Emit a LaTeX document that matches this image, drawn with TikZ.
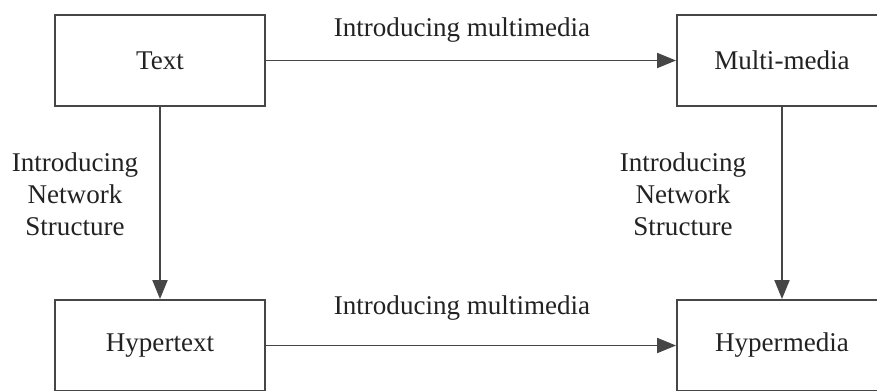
\documentclass[tikz,border=0pt]{standalone}
\usepackage{fontspec}
\setmainfont{Liberation Serif}
\usetikzlibrary{arrows.meta}
\definecolor{linegray}{HTML}{464646}
\definecolor{textgray}{HTML}{222222}
\begin{document}
\begin{tikzpicture}[x=0.02cm, y=0.02cm]
\tikzstyle{every node}+=[inner sep=0pt, text=textgray, font=\fontsize{15.4}{18.2}\selectfont]
\tikzstyle{box}=[draw=linegray, line width=1.1pt, minimum width=4.2cm, minimum height=1.82cm]
\tikzstyle{arrow}=[draw=linegray, line width=1.1pt, -{Triangle[length=0.38cm,width=0.3cm]}]
\useasboundingbox (0,0) rectangle (877,-390);
% boxes
\node [box] (text) at (160,-60.5) {Text};
\node [box] (multimedia) at (782,-60.5) {Multi-media};
\node [box] (hypertext) at (160,-345.5) {Hypertext};
\node [box] (hypermedia) at (782,-345.5) {Hypermedia};
% arrows
\draw [arrow] (text) -- (multimedia);
\draw [arrow] (hypertext) -- (hypermedia);
\draw [arrow] (text) -- (hypertext);
\draw [arrow] (multimedia) -- (hypermedia);
% labels
\node (topLabel) at (462,-30) {Introducing multimedia};
\node (bottomLabel) at (462,-308) {Introducing multimedia};
\node [align=center] (leftLabel) at (75,-194) {Introducing\\Network\\Structure};
\node [align=center] (rightLabel) at (683,-194) {Introducing\\Network\\Structure};
\end{tikzpicture}
\end{document}
